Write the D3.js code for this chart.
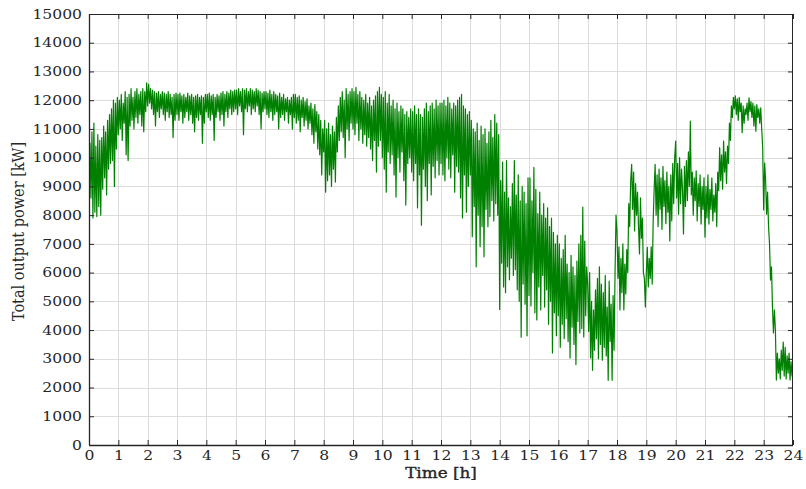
<!DOCTYPE html>
<html><head><meta charset="utf-8">
<script src="https://cdn.jsdelivr.net/npm/d3@7"></script>
<style>
html,body{margin:0;padding:0;background:#fff;}
svg{display:block;}
</style></head>
<body>
<svg id="chart" width="806" height="489"></svg>
<script>
// ---- Data: total output power [kW], 30 samples per hour (every 2 min) ----
const h0 = [9200,10500,8600,10900,7900,11200,8100,10400,7950,10800,8300,10600,8000,10700,8900,11100,9300,10900,8700,11300,9600,11500,9800,11700,9900,12000,9000,11900,10300,12100];
const h1 = [10800,12000,11000,12200,10600,11900,11200,12300,10100,12100,9900,12200,11100,12400,11300,12100,11000,12300,11400,12400,11200,12200,11500,12300,11100,12400,10900,12300,11600,12600];
const h2 = [11800,12550,11900,12400,11700,12350,11500,12300,11100,12250,11600,12300,11400,12200,11700,12300,11500,12250,11300,12200,11600,12300,11400,12200,11500,12100,10700,12200,11300,12250];
const h3 = [11500,12200,11300,12250,11600,12150,11200,12200,11400,12100,11600,12250,11300,12150,11500,12200,11200,12100,10900,12150,11400,12200,11300,12100,11500,12150,10500,12100,11200,12200];
const h4 = [11600,12200,11400,12250,11300,12150,11500,12200,10600,12100,11400,12200,11600,12150,11300,12250,11500,12300,11100,12200,11600,12300,11400,12250,11700,12350,11500,12300,11600,12350];
const h5 = [11700,12350,11500,12400,11800,12300,11600,12400,10800,12350,11700,12400,11600,12300,11800,12400,11500,12350,11700,12300,11600,12400,11800,12350,11500,12300,11000,12250,11600,12300];
const h6 = [11700,12300,11500,12250,11400,12350,11600,12200,11300,12300,11500,12200,11600,12150,11000,12250,11400,12100,11500,12200,11300,12050,11600,12100,11200,12000,11500,12100,11000,12200];
const h7 = [11400,12200,11200,12100,11300,12150,10900,12000,11400,12100,11100,11950,11300,12050,11000,11800,11200,11900,10800,11700,10500,11850,10900,11600,10300,11500,10100,11300,9400,11000];
const h8 = [10200,11300,8800,11000,9200,11200,9400,10800,9000,11100,9600,10900,9150,11400,10200,11800,10600,12100,10900,12300,10700,12000,10000,12400,11000,12200,10600,12300,11200,12400];
const h9 = [11000,12300,10800,12450,11200,12200,10600,12300,11000,12100,10500,12000,10800,12200,10400,11900,10700,12100,10300,11800,9900,12000,10600,12150,9500,12300,10400,12450,10600,12200];
const h10 = [10000,12100,9600,12300,8800,11900,10200,12200,9800,11800,10100,12000,9400,11700,8630,11900,10000,11600,9500,11800,10200,11700,9200,11500,8350,11600,9800,11400,10000,11700];
const h11 = [9500,11600,9200,11800,9800,11500,8250,11700,9400,11500,7650,11400,9600,11700,9000,11900,8500,11600,9800,11800,8700,11900,9700,11700,9300,12000,9900,11800,9400,11900];
const h12 = [9800,11900,9400,12000,9200,11800,10000,12100,9600,11900,9300,11700,10100,11900,8800,11800,9700,12000,9500,12100,8600,12200,7900,11800,9400,11700,8100,11500,9000,11600];
const h13 = [9400,11300,7250,11000,8300,10900,6200,11200,8000,10600,6900,11100,7600,10800,6550,11000,8200,10500,7600,10900,7950,11300,8500,10700,7800,11500,8400,11200,8000,10800];
const h14 = [4720,9200,6330,9850,5500,8800,5300,9900,6200,8600,5750,8300,6500,9100,5900,9900,6100,8700,5400,9400,5000,8500,3750,9000,5600,8800,4900,8400,3800,9300];
const h15 = [5200,9300,4840,8500,6000,9660,4600,8900,4350,8050,5500,8800,4700,8000,5900,8400,4800,7900,5400,8250,4200,7600,5000,7900,3200,7400,4600,7000,3800,7300];
const h16 = [4500,7000,3400,6500,4200,6800,3700,7300,4400,6300,3600,6000,3030,6600,4100,6200,3500,5900,2800,6400,4300,7000,3900,7300,4050,8280,3760,7100,4500,6200];
const h17 = [5600,3950,6000,3030,5000,2600,4700,3300,5400,3700,5800,3000,6200,3500,5600,2950,5300,3400,5900,3100,4800,2250,5700,3600,4900,2250,5200,3300,6000,8000];
const h18 = [7400,5800,6900,4700,6500,5300,7000,4700,6300,5260,6800,6000,8400,7600,9200,9770,8200,9500,7450,9100,8000,8800,7600,6650,8600,7200,7900,6000,5800,4800];
const h19 = [6000,6880,5500,6500,5800,6900,5600,7800,8900,9770,8000,9400,7600,9600,8200,9300,7500,9700,8300,9200,7700,9500,8100,9000,7100,9400,7800,9800,8400,10000];
const h20 = [10580,8600,9800,8030,10000,8400,9600,8900,7340,9700,8300,9900,8500,10200,9000,11270,8700,9500,8000,9300,8500,9540,7800,9100,8300,9400,7690,9000,8200,9300];
const h21 = [7230,9000,7900,9400,7690,8900,8200,9300,7800,8700,8100,9100,7600,9500,8850,10350,9200,10100,8900,10580,9500,10200,9100,10400,9800,11200,10600,11800,11400,12100];
const h22 = [11700,12150,11500,12050,11300,12100,11600,11900,10870,11800,11200,11700,11500,11900,11300,12080,11600,11950,11400,11900,11100,11800,10920,11850,11400,11700,11200,11730,11000,10350];
const h23 = [8180,9810,9200,8030,8800,7600,7000,5740,6200,4800,3900,4700,4000,2260,3200,2500,3000,2300,3300,2600,3580,2400,3400,2300,3100,2500,3200,2260,2900,2400];
const endValue = [2800]; // value at 24 h

const hourTicks = [0,1,2,3,4,5,6,7,8,9,10,11,12,13,14,15,16,17,18,19,20,21,22,23,24];
const powerTicks = [0,1000,2000,3000,4000,5000,6000,7000,8000,9000,10000,11000,12000,13000,14000,15000];
const xTitle = "Time [h]";
const yTitle = "Total output power [kW]";

// ---- Build ----
const hours = [h0,h1,h2,h3,h4,h5,h6,h7,h8,h9,h10,h11,h12,h13,h14,h15,h16,h17,h18,h19,h20,h21,h22,h23];
const series = hours.flatMap((arr,h)=>arr.map((v,i)=>({t:h+i/arr.length, v})));
series.push({t:24, v:endValue[0]});

const svg = d3.select("#chart");
const L=89, R=793, T=14, B=445;
const x = d3.scaleLinear().domain([0,24]).range([L,R]);
const y = d3.scaleLinear().domain([0,15000]).range([B,T]);
const font = "'DejaVu Serif', 'Liberation Serif', serif";
const txt = "#262626";
const SX = 1.2;

svg.append("rect").attr("width",806).attr("height",489).attr("fill","#fff");

// grid
const grid = svg.append("g").attr("stroke","#dcdcdc").attr("stroke-width",1);
grid.selectAll(".gx").data(hourTicks.slice(1,-1)).join("line")
  .attr("x1",d=>Math.round(x(d))+0.5).attr("x2",d=>Math.round(x(d))+0.5).attr("y1",T).attr("y2",B);
grid.selectAll(".gy").data(powerTicks.slice(1,-1)).join("line")
  .attr("y1",d=>Math.round(y(d))+0.5).attr("y2",d=>Math.round(y(d))+0.5).attr("x1",L).attr("x2",R);

// line
svg.append("clipPath").attr("id","clip").append("rect").attr("x",L).attr("y",T).attr("width",R-L).attr("height",B-T);
svg.append("path").datum(series)
  .attr("clip-path","url(#clip)")
  .attr("fill","none").attr("stroke","#008000").attr("stroke-width",1.2).attr("stroke-linejoin","round")
  .attr("d", d3.line().x(d=>x(d.t)).y(d=>y(d.v)));

// axes
function styleAxis(g){
  g.select(".domain").remove();
  g.selectAll(".tick line").attr("stroke","#262626");
  g.selectAll(".tick text").attr("fill",txt).style("font-family",font).style("font-size","13px");
}
const xb = svg.append("g").attr("transform",`translate(0,${B})`)
  .call(d3.axisBottom(x).tickValues(hourTicks).tickSize(-5).tickPadding(8).tickFormat(d3.format("d")));
styleAxis(xb);
xb.selectAll(".tick text").attr("transform",`scale(${SX},1)`).attr("dy","0.75em").attr("y",5);
const xt = svg.append("g").attr("transform",`translate(0,${T})`)
  .call(d3.axisTop(x).tickValues(hourTicks).tickSize(-5).tickFormat(""));
styleAxis(xt);
const yl = svg.append("g").attr("transform",`translate(${L},0)`)
  .call(d3.axisLeft(y).tickValues(powerTicks).tickSize(-5).tickPadding(7).tickFormat(d3.format("d")));
styleAxis(yl);
yl.selectAll(".tick text").attr("x",-7/SX).attr("transform",`scale(${SX},1)`);
const yr = svg.append("g").attr("transform",`translate(${R},0)`)
  .call(d3.axisRight(y).tickValues(powerTicks).tickSize(-5).tickFormat(""));
styleAxis(yr);

// frame
svg.append("rect").attr("x",L+0.5).attr("y",T+0.5).attr("width",R-L-1).attr("height",B-T)
  .attr("fill","none").attr("stroke","#262626").attr("stroke-width",1);
svg.append("line").attr("x1",L).attr("x2",R).attr("y1",B+0.5).attr("y2",B+0.5).attr("stroke","#262626").attr("stroke-width",1.3);
svg.append("line").attr("x1",L+0.5).attr("x2",L+0.5).attr("y1",T).attr("y2",B).attr("stroke","#262626").attr("stroke-width",1.3);

// titles
svg.append("text").attr("transform",`translate(${(L+R)/2},478) scale(${SX},1)`)
  .attr("text-anchor","middle").attr("fill",txt).style("font-family",font).style("font-size","14px")
  .attr("stroke",txt).attr("stroke-width",0.35).text(xTitle);
svg.append("text").attr("transform",`translate(24,${(T+B)/2 + 2}) rotate(-90) scale(1,${SX})`)
  .attr("text-anchor","middle").attr("fill",txt).style("font-family",font).style("font-size","14.5px")
  .text(yTitle);
</script>
</body></html>
